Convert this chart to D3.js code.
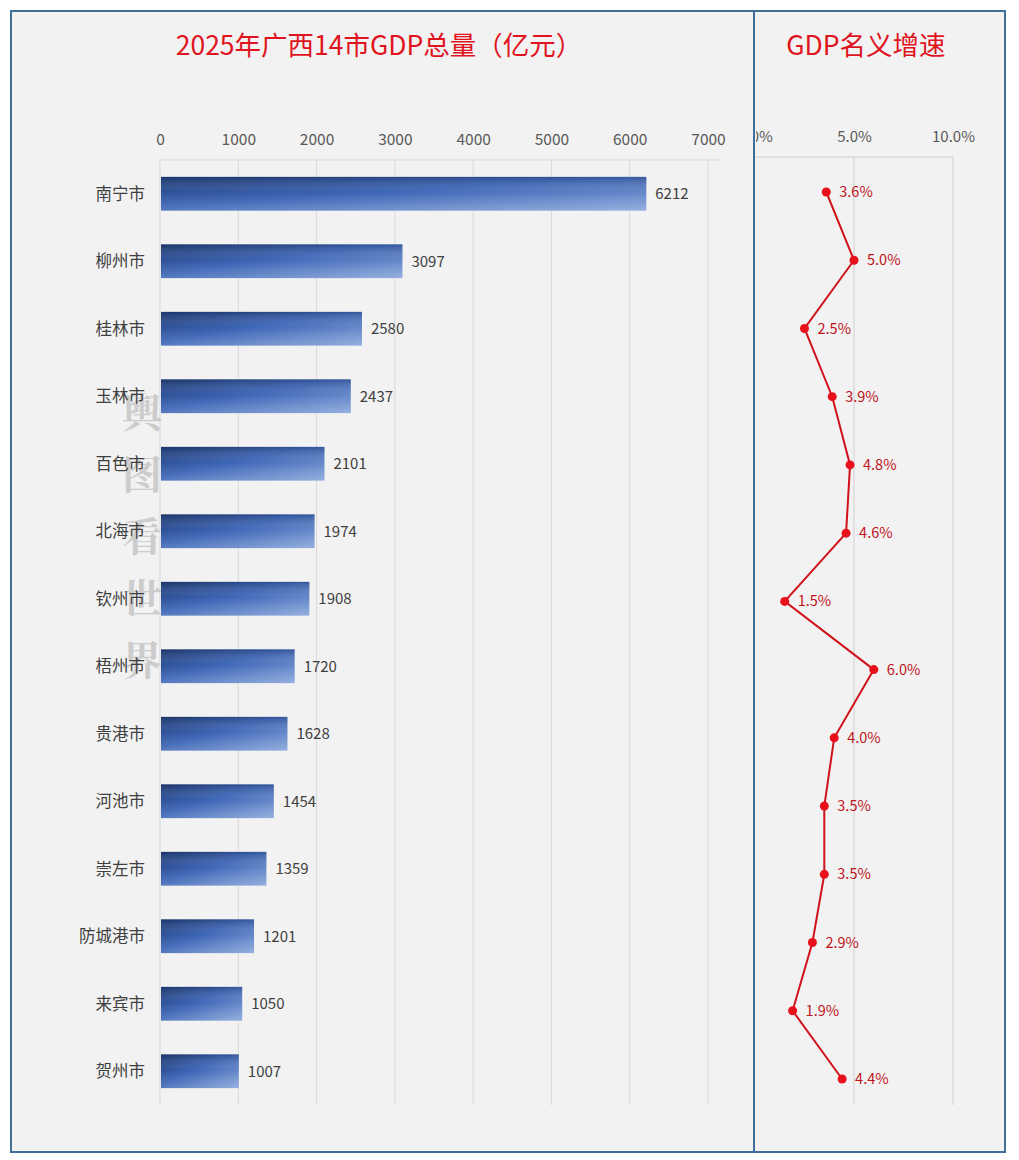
<!DOCTYPE html>
<html><head><meta charset="utf-8">
<script src="https://cdn.jsdelivr.net/npm/d3@7"></script>
<style>
html,body{margin:0;padding:0;background:#fff;}
svg{display:block;}
</style></head>
<body>
<script>
const cities = ["南宁市","柳州市","桂林市","玉林市","百色市","北海市","钦州市","梧州市","贵港市","河池市","崇左市","防城港市","来宾市","贺州市"];
const gdp = [6212,3097,2580,2437,2101,1974,1908,1720,1628,1454,1359,1201,1050,1007];
const growth = [3.6,5.0,2.5,3.9,4.8,4.6,1.5,6.0,4.0,3.5,3.5,2.9,1.9,4.4];
const gdpTicks = [0,1000,2000,3000,4000,5000,6000,7000];
const growthTicks = [0,5,10];
const titleLeft = "2025年广西14市GDP总量（亿元）";
const titleRight = "GDP名义增速";
const watermark = ["輿","图","看","世","界"];

const W = 1019, H = 1160;
const font = "'Noto Sans CJK SC','Noto Sans',sans-serif";
const svg = d3.select("body").append("svg").attr("width", W).attr("height", H);

const defs = svg.append("defs");
const g1 = defs.append("linearGradient").attr("id","barGrad")
  .attr("x1","0").attr("y1","0").attr("x2","1").attr("y2","1");
g1.append("stop").attr("offset","0%").attr("stop-color","#1f3b76");
g1.append("stop").attr("offset","45%").attr("stop-color","#3d66b6");
g1.append("stop").attr("offset","100%").attr("stop-color","#8aa7dc");
const g2 = defs.append("linearGradient").attr("id","barSheen")
  .attr("x1","0").attr("y1","0").attr("x2","0").attr("y2","1");
g2.append("stop").attr("offset","0%").attr("stop-color","#0d1f45").attr("stop-opacity",0.25);
g2.append("stop").attr("offset","45%").attr("stop-color","#ffffff").attr("stop-opacity",0.0);
g2.append("stop").attr("offset","100%").attr("stop-color","#ffffff").attr("stop-opacity",0.1);

// frame
svg.append("rect").attr("x",11).attr("y",11).attr("width",994).attr("height",1141)
  .attr("fill","#f2f2f2").attr("stroke","#3f6f98").attr("stroke-width",2);
svg.append("line").attr("x1",754).attr("x2",754).attr("y1",11).attr("y2",1152)
  .attr("stroke","#3f6f98").attr("stroke-width",2);

// titles
svg.append("text").attr("x",379).attr("y",55).attr("text-anchor","middle")
  .attr("font-family",font).attr("font-size",26.5).attr("fill","#e0141e").text(titleLeft);
svg.append("text").attr("x",866).attr("y",55).attr("text-anchor","middle")
  .attr("font-family",font).attr("font-size",26.5).attr("fill","#e0141e").text(titleRight);

// left chart scales
const x = d3.scaleLinear().domain([0,7000]).range([160,708]);
const y = d3.scaleBand().domain(cities).range([160,1105]).paddingInner(0.5).paddingOuter(0.25);

const gl = svg.append("g");
gl.selectAll("line.grid").data(gdpTicks).join("line")
  .attr("x1",d=>x(d)).attr("x2",d=>x(d)).attr("y1",160).attr("y2",1105)
  .attr("stroke","#d9d9d9").attr("stroke-width",1);
gl.append("line").attr("x1",160).attr("x2",722).attr("y1",160).attr("y2",160)
  .attr("stroke","#d9d9d9");

// top axis
const axTop = svg.append("g").attr("transform","translate(0,145)")
  .call(d3.axisTop(x).tickValues(gdpTicks).tickSize(0).tickPadding(0).tickFormat(d3.format("d")));
axTop.select(".domain").remove();
axTop.selectAll("text").attr("font-family",font).attr("font-size",15.5).attr("fill","#595959");

// watermark
svg.append("g").selectAll("text").data(watermark).join("text")
  .attr("x",142).attr("y",(d,i)=>427+i*62).attr("text-anchor","middle")
  .attr("font-family","'Noto Serif CJK SC','Noto Sans CJK TC',serif").attr("font-size",40)
  .attr("font-weight","bold").attr("fill","#b8b8b8").attr("opacity",0.65).text(d=>d);

// bars
const bars = svg.append("g").selectAll("g").data(cities).join("g");
bars.append("rect").attr("x",x(0)+1).attr("y",d=>y(d))
  .attr("width",(d,i)=>x(gdp[i])-x(0)-1).attr("height",y.bandwidth()).attr("fill","url(#barGrad)");
bars.append("rect").attr("x",x(0)+1).attr("y",d=>y(d))
  .attr("width",(d,i)=>x(gdp[i])-x(0)-1).attr("height",y.bandwidth()).attr("fill","url(#barSheen)");
bars.append("text").attr("x",(d,i)=>x(gdp[i])+9).attr("y",d=>y(d)+y.bandwidth()/2)
  .attr("dy","0.35em").attr("font-family",font).attr("font-size",15).attr("fill","#404040")
  .text((d,i)=>gdp[i]);

// category labels
svg.append("g").selectAll("text").data(cities).join("text")
  .attr("x",145).attr("y",d=>y(d)+y.bandwidth()/2).attr("dy","0.35em").attr("text-anchor","end")
  .attr("font-family",font).attr("font-size",16.5).attr("fill","#404040").text(d=>d);

// right chart
const x2 = d3.scaleLinear().domain([0,10]).range([755,953]);
const y2 = d3.scalePoint().domain(cities).range([192,1079]);

svg.append("g").selectAll("line").data(growthTicks.filter(d=>d>0)).join("line")
  .attr("x1",d=>x2(d)).attr("x2",d=>x2(d)).attr("y1",157).attr("y2",1105)
  .attr("stroke","#d0d0d0");
svg.append("line").attr("x1",755).attr("x2",953).attr("y1",157).attr("y2",157).attr("stroke","#d0d0d0");

const clip = defs.append("clipPath").attr("id","rclip");
clip.append("rect").attr("x",756).attr("y",-300).attr("width",250).attr("height",H+300);
const ax2 = svg.append("g").attr("transform","translate(0,142)").attr("clip-path","url(#rclip)")
  .call(d3.axisTop(x2).tickValues(growthTicks).tickSize(0).tickPadding(0).tickFormat(d=>d3.format(".1f")(d)+"%"));
ax2.select(".domain").remove();
ax2.selectAll("text").attr("font-family",font).attr("font-size",15).attr("fill","#595959");

const line = d3.line().x((d,i)=>x2(d)).y((d,i)=>y2(cities[i]));
svg.append("path").datum(growth).attr("d",line).attr("fill","none")
  .attr("stroke","#d0121b").attr("stroke-width",2);
svg.append("g").selectAll("circle").data(growth).join("circle")
  .attr("cx",d=>x2(d)).attr("cy",(d,i)=>y2(cities[i])).attr("r",4.5).attr("fill","#e8101a");
svg.append("g").selectAll("text").data(growth).join("text")
  .attr("x",d=>x2(d)+13).attr("y",(d,i)=>y2(cities[i])).attr("dy","0.35em")
  .attr("font-family",font).attr("font-size",14.5).attr("fill","#c0141c")
  .text(d=>d3.format(".1f")(d)+"%");
</script>
</body></html>
